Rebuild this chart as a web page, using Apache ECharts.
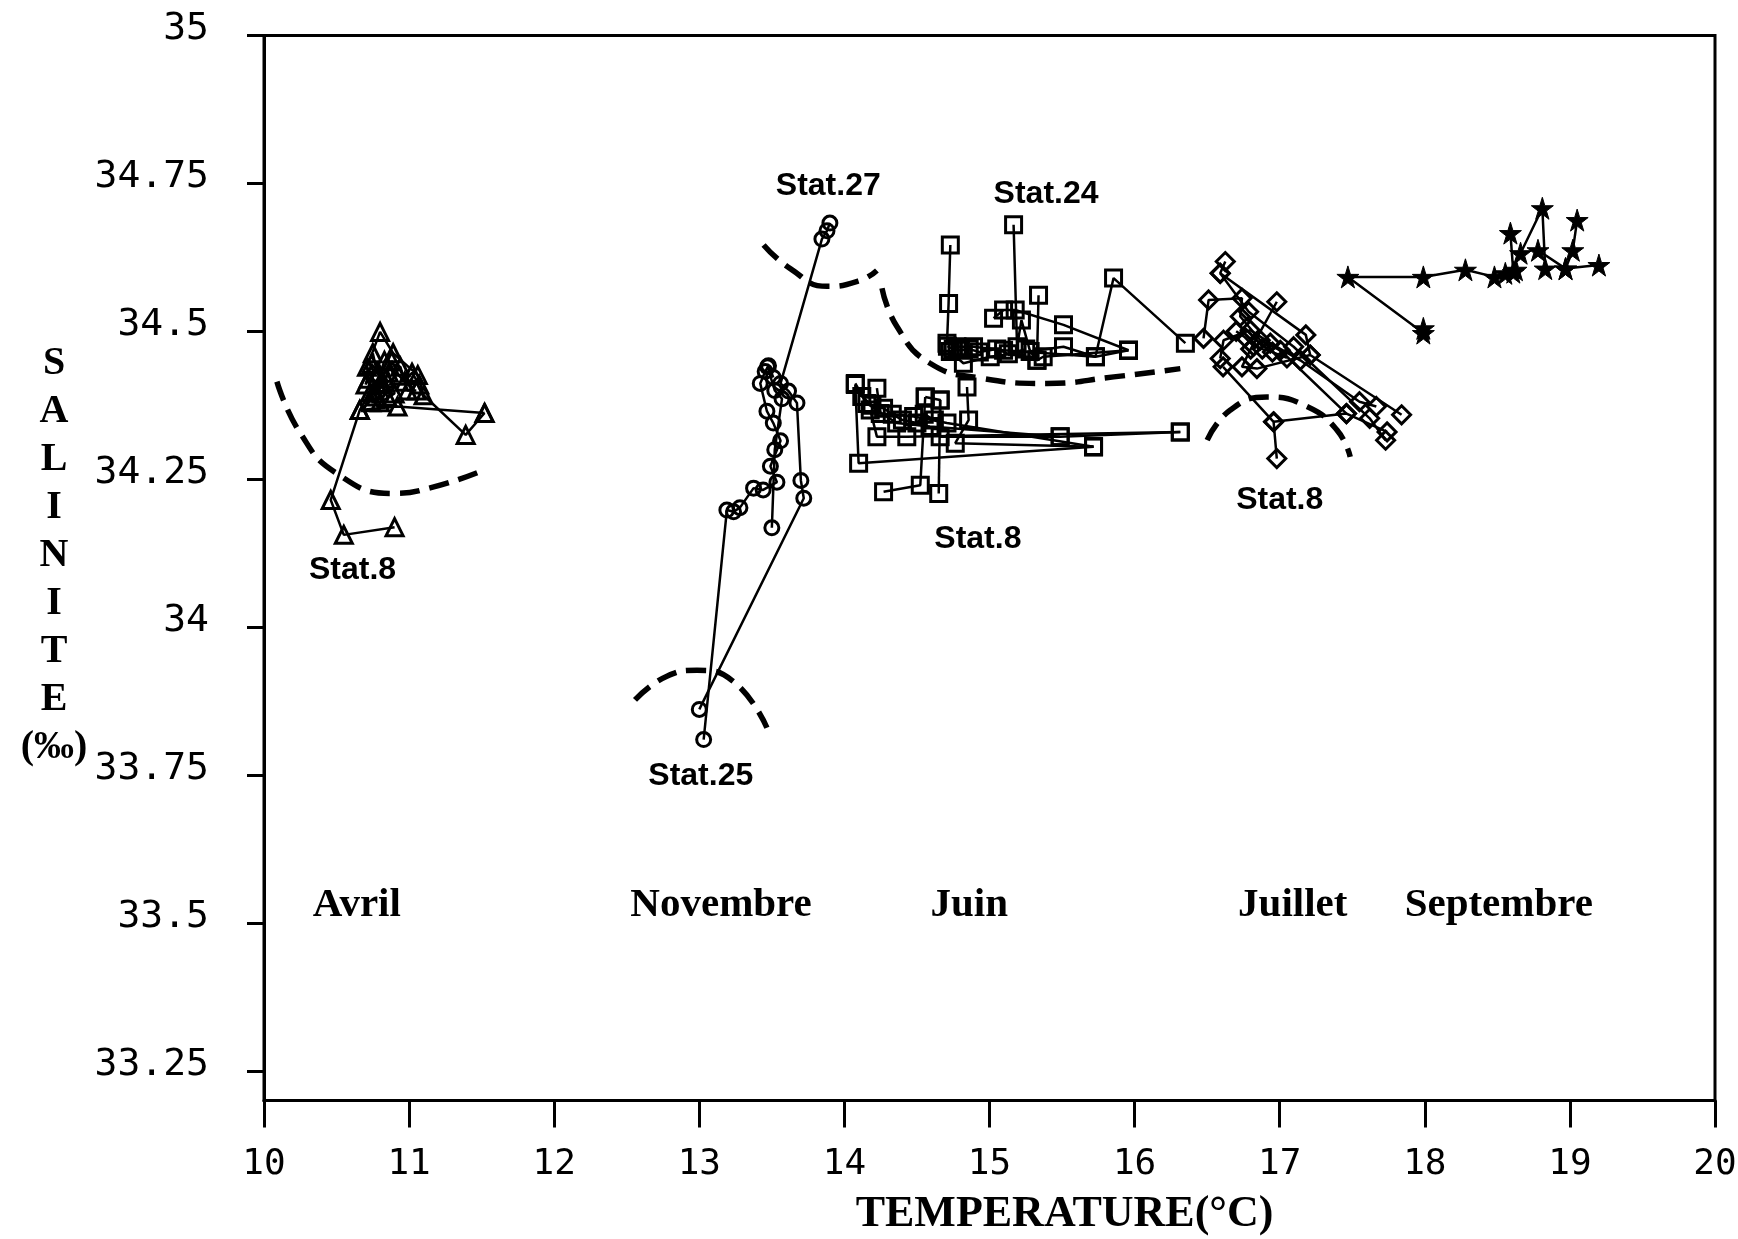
<!DOCTYPE html>
<html>
<head>
<meta charset="utf-8">
<script src="https://cdn.jsdelivr.net/npm/echarts@6/dist/echarts.min.js"></script>
<style>
  html, body { margin: 0; padding: 0; background: #fff; }
  #chart { width: 1738px; height: 1239px; }
</style>
</head>
<body>
<div id="chart"></div>
<script>
// T-S diagram: temperature (°C) vs salinity (‰), station profiles by month.

// Y axis ticks
const yTickValues = [33.25, 33.5, 33.75, 34, 34.25, 34.5, 34.75, 35];
const yTickLabels = ['33.25', '33.5', '33.75', '34', '34.25', '34.5', '34.75', '35'];

// Avril (triangles)
const avrilA = [[10.90,34.169],[10.55,34.156],[10.46,34.215],[10.66,34.367],[10.73,34.396],[10.71,34.44],[10.80,34.499],[10.89,34.463],[11.06,34.426],[11.10,34.392],[11.39,34.325],[11.52,34.362]];
const avrilB = [[10.66,34.367],[10.92,34.373],[11.52,34.362]];
const avrilC = [[10.75,34.463],[10.78,34.43],[10.82,34.41],[10.85,34.389],[10.80,34.413],[10.76,34.40],[10.83,34.45],[10.94,34.44],[10.99,34.40],[11.05,34.40]];
const avrilD = [[10.72,34.42],[10.77,34.39],[10.86,34.43],[10.90,34.395],[10.80,34.38],[10.74,34.38]];
const avrilE = [[10.70,34.41],[10.74,34.445],[10.79,34.43],[10.84,34.42],[10.88,34.45],[10.93,34.425],[10.97,34.415],[11.02,34.43],[11.07,34.41]];

// Novembre (circles)
const novA = [[13.03,33.81],[13.19,34.198],[13.236,34.195],[13.28,34.202],[13.374,34.235],[13.44,34.232],[13.535,34.245],[13.49,34.272],[13.56,34.315],[13.51,34.345],[13.466,34.365],[13.42,34.412],[13.454,34.432],[13.477,34.442],[13.51,34.422]];
const novB = [[13.90,34.683],[13.88,34.67],[13.845,34.656],[13.56,34.412],[13.615,34.399],[13.673,34.379],[13.70,34.248],[13.72,34.218],[13.00,33.861]];
const novC = [[13.47,34.44],[13.52,34.40],[13.57,34.386],[13.52,34.30],[13.50,34.168]];

// Juin (squares)
const juinA = [[14.73,34.646],[14.718,34.547],[14.707,34.48],[14.776,34.474],[14.89,34.474],[15.097,34.468],[15.73,34.457],[15.855,34.59],[16.35,34.48]];
const juinB = [[15.166,34.68],[15.19,34.474],[15.22,34.519],[15.28,34.466],[15.327,34.451]];
const juinC = [[15.338,34.561],[15.327,34.451],[15.37,34.457],[15.958,34.468]];
const juinD = [[15.028,34.522],[15.097,34.536],[15.177,34.536],[15.51,34.511],[15.958,34.468]];
const juinE = [[14.73,34.466],[14.82,34.446],[15.005,34.457],[15.51,34.474],[15.73,34.457],[15.958,34.468]];
const juinF = [[14.075,34.412],[14.155,34.378],[14.36,34.345],[14.59,34.339],[15.487,34.322],[16.315,34.33]];
const juinG = [[14.224,34.404],[14.247,34.361],[14.477,34.356],[14.707,34.345],[15.717,34.305]];
const juinH = [[14.557,34.389],[14.66,34.384],[14.66,34.322],[15.487,34.322]];
const juinI = [[14.845,34.406],[14.856,34.35],[14.764,34.311],[15.717,34.305]];
const juinJ = [[14.075,34.41],[14.098,34.277],[15.717,34.305]];
const juinK = [[14.27,34.229],[14.523,34.24],[14.557,34.389]];
const juinL = [[14.65,34.226],[14.66,34.384]];
const juinM = [[14.178,34.367],[14.224,34.322],[14.43,34.322],[16.315,34.33]];
const juinN = [[14.71,34.475],[14.75,34.47],[14.80,34.468],[14.86,34.47],[14.93,34.465],[15.05,34.47],[15.13,34.462],[15.25,34.47]];
const juinO = [[14.12,34.39],[14.19,34.375],[14.27,34.37],[14.33,34.36],[14.40,34.35],[14.50,34.345],[14.55,34.36],[14.62,34.35]];

// Juillet (diamonds)
const juilA = [[16.625,34.618],[16.59,34.598],[17.18,34.494],[17.21,34.46],[17.84,34.359]];
const juilB = [[16.59,34.598],[16.786,34.533],[17.096,34.474],[17.62,34.353],[17.73,34.316]];
const juilC = [[16.475,34.488],[16.51,34.553],[16.74,34.556],[16.728,34.525],[16.866,34.485],[17.004,34.468],[17.46,34.361]];
const juilD = [[16.59,34.454],[16.613,34.485],[16.797,34.502],[16.935,34.48],[17.142,34.451],[17.55,34.381],[17.666,34.373]];
const juilE = [[16.98,34.55],[16.80,34.47],[16.74,34.44],[16.843,34.437],[17.21,34.46]];
const juilF = [[16.61,34.44],[16.958,34.347],[16.98,34.285]];
const juilG = [[16.958,34.347],[17.46,34.361],[17.74,34.33]];
const juilH = [[16.70,34.50],[16.76,34.49],[16.82,34.475],[16.88,34.47],[16.95,34.465],[17.05,34.455]];

// Septembre (stars)
const sepA = [[17.99,34.497],[17.47,34.592],[17.99,34.592],[18.28,34.604],[18.48,34.592],[18.555,34.598],[18.628,34.604]];
const sepB = [[18.59,34.666],[18.61,34.60]];
const sepC = [[18.66,34.632],[18.81,34.708],[18.83,34.606]];
const sepD = [[18.78,34.637],[18.97,34.606],[19.20,34.612]];
const sepE = [[19.05,34.688],[19.02,34.637],[18.97,34.606]];
const sepF = [[17.99,34.505]];

// Dashed envelopes around station groups
const arcAvril = [[10.089,34.415],[10.25,34.328],[10.50,34.26],[10.89,34.226],[11.17,34.237],[11.49,34.263]];
const arcStat25 = [[12.557,33.877],[12.777,33.917],[12.984,33.927],[13.236,33.908],[13.466,33.83]];
const arcStat27 = [[13.443,34.646],[13.627,34.606],[13.88,34.576],[14.109,34.586],[14.224,34.603]];
const arcStat24 = [[14.259,34.573],[14.362,34.508],[14.59,34.446],[14.936,34.421],[15.396,34.412],[15.856,34.423],[16.315,34.437]];
const arcJuillet = [[16.5,34.316],[16.66,34.367],[16.912,34.389],[17.188,34.373],[17.395,34.333],[17.486,34.288]];

// Text annotations (placed at data coordinates)
const monthLabels = [[10.64,33.529,'Avril'],[13.15,33.529,'Novembre'],[14.86,33.529,'Juin'],[17.09,33.529,'Juillet'],[18.51,33.529,'Septembre']];
const stationLabels = [[10.61,34.096,'Stat.8'],[13.01,33.748,'Stat.25'],[13.889,34.746,'Stat.27'],[15.39,34.732,'Stat.24'],[14.92,34.149,'Stat.8'],[17.0,34.215,'Stat.8']];

const STAR = 'path://M50,0 L61,35 L98,35 L68,57 L79,91 L50,70 L21,91 L32,57 L2,35 L39,35 Z';

function profile(data, symbol, size, filled) {
  return {
    type: 'line',
    data: data,
    symbol: symbol,
    symbolSize: size,
    showSymbol: true,
    showAllSymbol: true,
    lineStyle: { color: '#000', width: 2.5 },
    itemStyle: filled
      ? { color: '#000', borderColor: '#000', borderWidth: 1 }
      : { color: 'rgba(0,0,0,0)', borderColor: '#000', borderWidth: 3 },
    emphasis: { disabled: true },
    z: 3
  };
}

function envelope(data) {
  return {
    type: 'line',
    data: data,
    smooth: 0.5,
    symbol: 'none',
    lineStyle: { color: '#000', width: 5.5, type: [20, 10] },
    emphasis: { disabled: true },
    z: 2
  };
}

const series = [];
[avrilA, avrilB, avrilC, avrilD, avrilE].forEach(d => series.push(profile(d, 'triangle', 17, false)));
[novA, novB, novC].forEach(d => series.push(profile(d, 'circle', 14, false)));
[juinA, juinB, juinC, juinD, juinE, juinF, juinG, juinH, juinI, juinJ, juinK, juinL, juinM, juinN, juinO].forEach(d => series.push(profile(d, 'rect', 16, false)));
[juilA, juilB, juilC, juilD, juilE, juilF, juilG, juilH].forEach(d => series.push(profile(d, 'diamond', 18, false)));
[sepA, sepB, sepC, sepD, sepE, sepF].forEach(d => series.push(profile(d, STAR, 22, true)));
[arcAvril, arcStat25, arcStat27, arcStat24, arcJuillet].forEach(d => series.push(envelope(d)));

const chart = echarts.init(document.getElementById('chart'), null, { renderer: 'canvas' });
chart.setOption({
  animation: false,
  backgroundColor: '#fff',
  grid: {
    left: 264, top: 35.5, width: 1451, height: 1065,
    containLabel: false, outerBoundsMode: 'none',
    show: true, borderColor: '#000', borderWidth: 3
  },
  xAxis: {
    type: 'value', min: 10, max: 20, interval: 1,
    axisLine: { show: true, lineStyle: { color: '#000', width: 3 } },
    axisTick: { show: true, length: 27, lineStyle: { color: '#000', width: 3 } },
    axisLabel: { margin: 46, color: '#000', fontFamily: 'DejaVu Sans Mono', fontSize: 36, lineHeight: 36 },
    splitLine: { show: false },
    name: 'TEMPERATURE(°C)',
    nameLocation: 'middle',
    nameGap: 92,
    nameTextStyle: { color: '#000', fontFamily: 'Liberation Serif', fontWeight: 'bold', fontSize: 44, padding: [0, 0, 0, 150] }
  },
  yAxis: {
    type: 'value', min: 33.2, max: 35,
    axisLine: { show: true, lineStyle: { color: '#000', width: 3 } },
    axisTick: { show: true, length: 17, customValues: yTickValues, lineStyle: { color: '#000', width: 3 } },
    axisLabel: {
      customValues: yTickValues,
      margin: 55, color: '#000', fontFamily: 'DejaVu Sans Mono', fontSize: 38,
      verticalAlign: 'bottom', lineHeight: 12,
      formatter: function (v) {
        const i = yTickValues.findIndex(t => Math.abs(t - v) < 1e-6);
        return i >= 0 ? yTickLabels[i] : '';
      }
    },
    splitLine: { show: false }
  },
  series: series
});

// Annotation texts, positioned through the grid's scales
function annotation(item, font) {
  const p = chart.convertToPixel({ gridIndex: 0 }, [item[0], item[1]]);
  return {
    type: 'text', x: p[0], y: p[1], z: 10,
    style: {
      text: item[2], fill: '#000', font: font,
      align: 'center', textAlign: 'center',
      verticalAlign: 'middle', textVerticalAlign: 'middle'
    }
  };
}

const graphics = [{
  type: 'text',
  x: 54, y: 340,
  style: {
    text: 'S\nA\nL\nI\nN\nI\nT\nE\n(‰)',
    fill: '#000',
    font: 'bold 40px "Liberation Serif"',
    align: 'center', textAlign: 'center',
    verticalAlign: 'top', textVerticalAlign: 'top',
    lineHeight: 48
  }
}];
monthLabels.forEach(m => graphics.push(annotation(m, 'bold 41px "Liberation Serif"')));
stationLabels.forEach(s => graphics.push(annotation(s, 'bold 32px "Liberation Sans"')));
chart.setOption({ graphic: graphics });
</script>
</body>
</html>
